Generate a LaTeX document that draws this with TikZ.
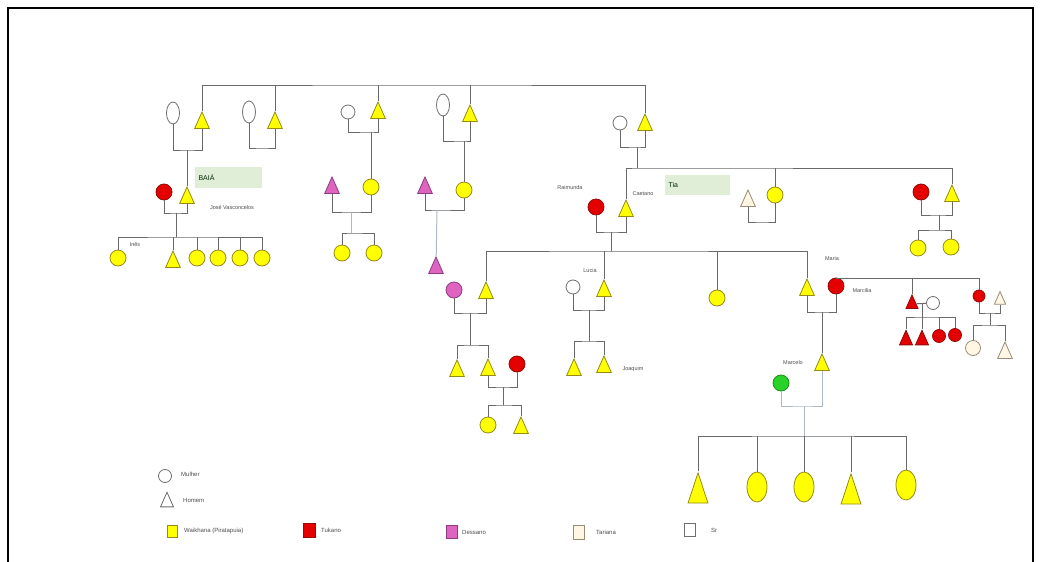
\documentclass[tikz,border=0pt]{standalone}
\usepackage{fontspec}
\setmainfont{Liberation Sans}
\usetikzlibrary{shapes.geometric}

\definecolor{wkfill}{RGB}{255,255,0}
\definecolor{wkdraw}{RGB}{150,140,20}
\definecolor{tkfill}{RGB}{228,0,0}
\definecolor{tkdraw}{RGB}{150,10,10}
\definecolor{dsfill}{RGB}{222,100,192}
\definecolor{dsdraw}{RGB}{140,60,130}
\definecolor{trfill}{RGB}{255,246,228}
\definecolor{trdraw}{RGB}{150,140,120}
\definecolor{srdraw}{RGB}{110,110,110}
\definecolor{verde}{RGB}{40,210,40}
\definecolor{caixa}{RGB}{224,238,216}
\definecolor{linha}{RGB}{105,105,105}
\definecolor{linhaclara}{RGB}{175,185,195}

\begin{document}
\begin{tikzpicture}[x=1pt,y=-1pt,
	pessoa/.style={draw, line width=0.8pt, inner sep=0pt},
	mulher/.style={pessoa, circle, minimum size=16pt},
	oval/.style={pessoa, ellipse, minimum width=13pt, minimum height=22pt},
	homem/.style={pessoa, regular polygon, regular polygon sides=3, minimum size=17pt, yscale=1.3},
	wk/.style={fill=wkfill, draw=wkdraw},
	tk/.style={fill=tkfill, draw=tkdraw},
	ds/.style={fill=dsfill, draw=dsdraw},
	tr/.style={fill=trfill, draw=trdraw},
	sr/.style={fill=white, draw=srdraw},
	laco/.style={draw=linha, line width=1pt},
	claro/.style={draw=linhaclara, line width=1pt},
	nome/.style={font=\fontsize{5.5}{6}\selectfont, text=black!70, inner sep=1pt},
	rotulo/.style={fill=caixa, font=\fontsize{7}{8}\selectfont, text=black!60!green!40!black, align=left, minimum height=21pt, inner sep=4pt},
	leg/.style={font=\fontsize{6}{7}\selectfont, text=black!70, anchor=west, inner sep=1pt}]
	\useasboundingbox (0,0) rectangle (1045,562);
	\draw[line width=1.5pt] (8,562) -- (8,8) -- (1033,8) -- (1033,562);

	% primeira geracao
	\node[oval,sr] (m1) at (173,113) {};
	\node[homem,wk] (h1) at (202,123) {};
	\node[oval,sr] (m2) at (249,112) {};
	\node[homem,wk] (h2) at (275,123) {};
	\node[mulher,sr,minimum size=14pt] (m3) at (348,112) {};
	\node[homem,wk] (h3) at (378,113) {};
	\node[oval,sr] (m4) at (443,105) {};
	\node[homem,wk] (h4) at (470,116) {};
	\node[mulher,sr,minimum size=14pt] (m5) at (620,123) {};
	\node[homem,wk] (h5) at (645,125) {};

	\coordinate (topo) at (420,85);
	\draw[laco] (h1) |- (topo) -| (h5);
	\draw[laco] (h2) -- (h2 |- topo);
	\draw[laco] (h3) -- (h3 |- topo);
	\draw[laco] (h4) -- (h4 |- topo);

	\coordinate (c1) at (187,150);
	\coordinate (c2) at (262,148);
	\coordinate (c3) at (371,132);
	\coordinate (c4) at (464,141);
	\coordinate (c5) at (637,147);
	\draw[laco] (m1) |- (c1) -| (h1);
	\draw[laco] (m2) |- (c2) -| (h2);
	\draw[laco] (m3) |- (c3) -| (h3);
	\draw[laco] (m4) |- (c4) -| (h4);
	\draw[laco] (m5) |- (c5) -| (h5);

	% segunda geracao
	\node[mulher,tk] (jm) at (164,192) {};
	\node[homem,wk] (jose) at (187,198) {};
	\node[homem,ds] (p3) at (332,188) {};
	\node[mulher,wk] (f3) at (371,187) {};
	\node[homem,ds] (p4) at (425,188) {};
	\node[mulher,wk] (f4) at (464,190) {};
	\node[mulher,tk] (rai) at (596,207) {};
	\node[homem,wk] (caetano) at (626,211) {};
	\node[homem,tr] (tm) at (748,201) {};
	\node[mulher,wk] (tia) at (775,195) {};
	\node[mulher,tk] (rm) at (921,192) {};
	\node[homem,wk] (rt) at (952,196) {};

	\draw[laco] (c1) -- (jose);
	\draw[laco] (c3) -- (f3);
	\draw[laco] (c4) -- (f4);
	\coordinate (s5) at (637,168);
	\draw[laco] (c5) -- (s5);
	\draw[laco] (caetano) |- (s5) -| (rt);
	\draw[laco] (tia) -- (tia |- s5);

	\coordinate (c6) at (176,213);
	\coordinate (c7) at (351,212);
	\coordinate (c8) at (437,210);
	\coordinate (c9) at (611,232);
	\coordinate (c10) at (762,222);
	\coordinate (c11) at (939,215);
	\draw[laco] (jm) |- (c6) -| (jose);
	\draw[laco] (p3) |- (c7) -| (f3);
	\draw[laco] (p4) |- (c8) -| (f4);
	\draw[laco] (rai) |- (c9) -| (caetano);
	\draw[laco] (tm) |- (c10) -| (tia);
	\draw[laco] (rm) |- (c11) -| (rt);

	\node[nome] (lines) at (135,245) {Inês};
	\node[nome] (ljose) at (232,207) {José Vasconcelos};
	\node[rotulo, text width=59pt] (baia) at (228,177) {BAIÁ};
	\node[nome] (lrai) at (570,188) {Raimunda};
	\node[nome] (lcae) at (643,194) {Caetano};
	\node[rotulo, text width=57pt, minimum height=20pt] (tiab) at (697,185) {Tia};

	% filhos de jose
	\node[mulher,wk] (k1) at (118,258) {};
	\node[homem,wk] (k2) at (173,262) {};
	\node[mulher,wk] (k3) at (197,258) {};
	\node[mulher,wk] (k4) at (218,258) {};
	\node[mulher,wk] (k5) at (240,258) {};
	\node[mulher,wk] (k6) at (262,258) {};
	\coordinate (s6) at (176,237);
	\draw[laco] (c6) -- (s6);
	\draw[laco] (k1) |- (s6) -| (k6);
	\draw[laco] (k2) -- (k2 |- s6);
	\draw[laco] (k3) -- (k3 |- s6);
	\draw[laco] (k4) -- (k4 |- s6);
	\draw[laco] (k5) -- (k5 |- s6);

	\node[mulher,wk] (g1) at (342,253) {};
	\node[mulher,wk] (g2) at (374,253) {};
	\coordinate (s7) at (351,233);
	\draw[claro] (c7) -- (s7);
	\draw[laco] (g1) |- (s7) -| (g2);

	\node[homem,ds] (p5) at (436,268) {};
	\draw[claro] (c8) -- (p5);

	\node[mulher,wk] (b1) at (918,248) {};
	\node[mulher,wk] (b2) at (951,247) {};
	\coordinate (s11) at (939,230);
	\draw[laco] (c11) -- (s11);
	\draw[laco] (b1) |- (s11) -| (b2);

	% terceira geracao
	\node[mulher,ds] (pm) at (454,290) {};
	\node[homem,wk] (a1) at (486,293) {};
	\node[mulher,sr,minimum size=14pt] (lu) at (573,287) {};
	\node[homem,wk] (a2) at (604,291) {};
	\node[mulher,wk] (a3) at (717,298) {};
	\node[homem,wk] (a4) at (807,290) {};
	\node[mulher,tk] (mc) at (836,286) {};
	\coordinate (s9) at (611,251);
	\draw[laco] (c9) -- (s9);
	\draw[laco] (a1) |- (s9) -| (a4);
	\draw[laco] (a2) -- (a2 |- s9);
	\draw[laco] (a3) -- (a3 |- s9);

	\node[nome] (llu) at (590,271) {Lucia};
	\node[nome] (lma) at (832,259) {Maria};
	\node[nome] (lmc) at (862,291) {Marcilia};

	\coordinate (c12) at (470,313);
	\coordinate (c14) at (589,310);
	\coordinate (c15) at (822,312);
	\draw[laco] (pm) |- (c12) -| (a1);
	\draw[laco] (lu) |- (c14) -| (a2);
	\draw[laco] (a4) |- (c15) -| (mc);

	\node[homem,wk] (d1) at (457,371) {};
	\node[homem,wk] (d2) at (488,370) {};
	\node[mulher,tk] (dm) at (517,364) {};
	\coordinate (s12) at (470,345);
	\draw[laco] (c12) -- (s12);
	\draw[laco] (d1) |- (s12) -| (d2);
	\coordinate (c13) at (503,387);
	\draw[laco] (d2) |- (c13) -| (dm);
	\node[mulher,wk] (e1) at (488,425) {};
	\node[homem,wk] (e2) at (521,428) {};
	\coordinate (s13) at (503,405);
	\draw[laco] (c13) -- (s13);
	\draw[laco] (e1) |- (s13) -| (e2);

	\node[homem,wk] (l1) at (574,370) {};
	\node[homem,wk] (l2) at (604,367) {};
	\coordinate (s14) at (589,341);
	\draw[laco] (c14) -- (s14);
	\draw[laco] (l1) |- (s14) -| (l2);
	\node[nome] (ljoa) at (633,369) {Joaquim};

	% irmaos de marcilia
	\coordinate (s16) at (979,278);
	\node[homem,tk,minimum size=14pt] (q1) at (912,304) {};
	\node[mulher,sr,minimum size=13pt] (qm) at (933,303) {};
	\node[mulher,tk,minimum size=12pt] (q2) at (979,296) {};
	\node[homem,tr,minimum size=13pt] (qh) at (1000,300) {};
	\draw[laco] (mc) |- (s16) -- (q2);
	\draw[laco] (q1) -- (q1 |- s16);
	\draw[laco] (q1) -- (qm);

	\node[homem,tk,minimum size=15pt] (r1) at (906,340) {};
	\node[homem,tk,minimum size=15pt] (r2) at (922,340) {};
	\node[mulher,tk,minimum size=13pt] (r3) at (939,336) {};
	\node[mulher,tk,minimum size=13pt] (r4) at (955,335) {};
	\coordinate (c17) at (922,303.5);
	\coordinate (s17) at (922,317);
	\draw[laco] (c17) -- (s17);
	\draw[laco] (r1) |- (s17) -| (r4);
	\draw[laco] (r2) -- (s17);
	\draw[laco] (r3) -- (r3 |- s17);

	\coordinate (c18) at (990,313);
	\draw[laco] (q2) |- (c18) -| (qh);
	\node[mulher,tr,minimum size=15pt] (u1) at (973,348) {};
	\node[homem,tr] (u2) at (1005,353) {};
	\coordinate (s18) at (990,325);
	\draw[laco] (c18) -- (s18);
	\draw[laco] (u1) |- (s18) -| (u2);

	% marcelo
	\node[homem,wk] (mar) at (822,365) {};
	\node[mulher,fill=verde,draw=verde!70!black] (gv) at (781,383) {};
	\node[nome] (lmar) at (793,363) {Marcelo};
	\draw[laco] (c15) -- (mar);
	\coordinate (c19) at (804,406);
	\draw[claro] (gv) |- (c19) -| (mar);

	\node[homem,wk,minimum size=23pt,yscale=1.35] (v1) at (698,493) {};
	\node[oval,wk,minimum width=20pt,minimum height=30pt] (v2) at (757,487) {};
	\node[oval,wk,minimum width=20pt,minimum height=30pt] (v3) at (804,487) {};
	\node[homem,wk,minimum size=23pt,yscale=1.35] (v4) at (851,494) {};
	\node[oval,wk,minimum width=20pt,minimum height=30pt] (v5) at (906,485) {};
	\coordinate (s19) at (804,436);
	\draw[claro] (c19) -- (s19);
	\draw[laco] (v1) |- (s19) -| (v5);
	\draw[laco] (v2) -- (v2 |- s19);
	\draw[laco] (v3) -- (s19);
	\draw[laco] (v4) -- (v4 |- s19);

	% legenda
	\node[mulher,sr,minimum size=13pt] (lgm) at (165,476) {};
	\node[leg] (tm1) at (180,474) {Mulher};
	\node[homem,sr,minimum size=15pt] (lgh) at (167,502) {};
	\node[leg] (th1) at (182,500) {Homem};
	\node[pessoa,wk,minimum width=10pt,minimum height=12pt] (qwk) at (172,531) {};
	\node[leg] (twk) at (183,531) {Waikhana (Piratapuia)};
	\node[pessoa,tk,minimum width=12pt,minimum height=14pt] (qtk) at (309,530) {};
	\node[leg] (ttk) at (320,530) {Tukano};
	\node[pessoa,ds,minimum width=11pt,minimum height=13pt] (qds) at (452,532) {};
	\node[leg] (tds) at (461,532) {Dessano};
	\node[pessoa,tr,minimum width=11pt,minimum height=14pt] (qtr) at (579,532) {};
	\node[leg] (ttr) at (595,532) {Tariana};
	\node[pessoa,sr,minimum width=11pt,minimum height=13pt] (qsr) at (690,530) {};
	\node[leg] (tsr) at (710,530) {Sr};
\end{tikzpicture}
\end{document}
